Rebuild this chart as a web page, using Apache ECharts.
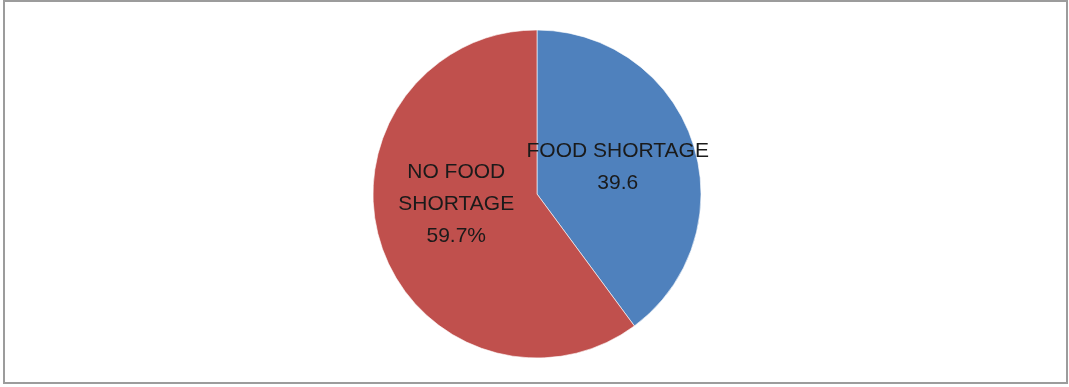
<!DOCTYPE html>
<html>
<head>
<meta charset="utf-8">
<script src="https://cdn.jsdelivr.net/npm/echarts@6/dist/echarts.min.js"></script>
<style>
  html, body { margin: 0; padding: 0; background: #fff; }
  #chart { width: 1069px; height: 387px; }
</style>
</head>
<body>
<div id="chart"></div>
<script>
// Share of households by food situation
const categories = ['FOOD SHORTAGE', 'NO FOOD SHORTAGE'];
const values = [39.6, 59.7];
const labelLines = [['FOOD SHORTAGE', '39.6'], ['NO FOOD', 'SHORTAGE', '59.7%']];
const colors = ['#4F81BD', '#C0504D'];

const chart = echarts.init(document.getElementById('chart'), null, { renderer: 'canvas' });

const data = categories.map((name, i) => ({
  name: name,
  value: values[i],
  itemStyle: { color: colors[i] },
  label: {
    formatter: labelLines[i].join('\n'),
    offset: i === 1 ? [0, -16] : [0, 0]
  }
}));

chart.setOption({
  animation: false,
  backgroundColor: '#fff',
  graphic: [{
    type: 'rect',
    shape: { x: 4, y: 1, width: 1063, height: 382 },
    style: { fill: 'none', stroke: '#9c9c9c', lineWidth: 2 },
    silent: true
  }],
  series: [{
    type: 'pie',
    center: [537, 194],
    radius: 164,
    startAngle: 90,
    clockwise: true,
    label: {
      show: true,
      position: 'inside',
      color: '#1a1a1a',
      fontFamily: 'Liberation Sans',
      fontSize: 21,
      lineHeight: 32,
      align: 'center'
    },
    labelLine: { show: false },
    itemStyle: { borderColor: 'rgba(255,255,255,0.6)', borderWidth: 1 },
    emphasis: { disabled: true },
    data: data
  }]
});
</script>
</body>
</html>
